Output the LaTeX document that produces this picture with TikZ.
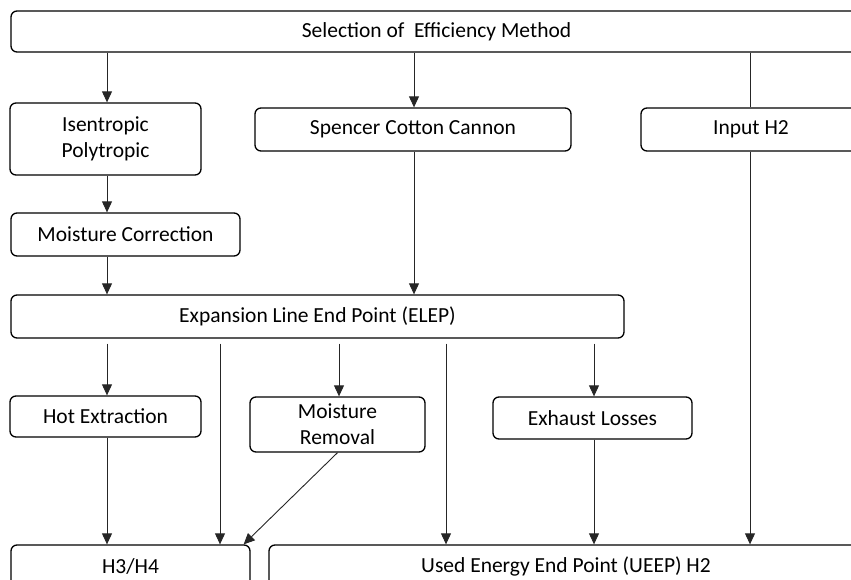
\documentclass[tikz,border=0pt]{standalone}
\usepackage{fontspec}
\setmainfont{Carlito}
\usetikzlibrary{arrows.meta}
\tikzset{
  box/.style={draw,rounded corners=6bp,line width=1.3bp,inner sep=0pt,align=center,
    font=\fontsize{21.5bp}{26bp}\selectfont},
  link/.style={line width=0.9bp,draw=black!85},
}
\begin{document}
\begin{tikzpicture}[x=1bp,y=-1bp,>={Triangle[width=10bp,length=11bp]}]
%%
\path[use as bounding box,clip] (0,0) rectangle (851,580);
\node (SEL) at (436.5,31.5) [box,minimum width=851bp,minimum height=41bp] {Selection of\ \ Efficiency Method};
  \node (ISP) at (105.5,139) [box,minimum width=191bp,minimum height=72bp] {Isentropic\\Polytropic};
  \node (SCC) at (413,129.5) [box,minimum width=316bp,minimum height=43bp] {Spencer Cotton Cannon};
  \node (INP) at (751,129.5) [box,minimum width=220bp,minimum height=43bp] {Input H2};
  \node (MC) at (125.5,234.5) [box,minimum width=229bp,minimum height=43bp] {Moisture Correction};
  \node (ELEP) at (317.5,316.5) [box,minimum width=613bp,minimum height=43bp] {Expansion Line End Point (ELEP)};
  \node (HE) at (105.5,416.5) [box,minimum width=191bp,minimum height=41bp] {Hot Extraction};
  \node (MR) at (337.5,424.5) [box,minimum width=175bp,minimum height=55bp] {Moisture\\Removal};
  \node (EL) at (592.5,418) [box,minimum width=199bp,minimum height=42bp] {Exhaust Losses};
  \node (H34) at (130.5,566.5) [box,minimum width=239bp,minimum height=43bp] {H3/H4};
  \node (UEEP) at (566,566.5) [box,minimum width=594bp,minimum height=43bp] {Used Energy End Point (UEEP) H2};
  \coordinate (c1) at (107,0);
  \coordinate (c2) at (220,0);
  \coordinate (c3) at (339,0);
  \coordinate (c4) at (446,0);
  \coordinate (c5) at (594,0);
  \coordinate (c6) at (750,0);
  \coordinate (c7) at (414,0);
  \draw [link,->] (SEL.south -| c1) -- (ISP.north -| c1);
  \draw [link,->] (SEL.south -| c7) -- (SCC.north -| c7);
  \draw [link] (SEL.south -| c6) -- (INP.north -| c6);
  \draw [link,->] (ISP.south -| c1) -- (MC.north -| c1);
  \draw [link,->] (MC.south -| c1) -- (ELEP.north -| c1);
  \draw [link,->] (SCC.south -| c7) -- (ELEP.north -| c7);
  \draw [link,->,shorten <=5bp] (ELEP.south -| c1) -- (HE.north -| c1);
  \draw [link,->,shorten <=5bp] (ELEP.south -| c2) -- (H34.north -| c2);
  \draw [link,->,shorten <=5bp] (ELEP.south -| c3) -- (MR.north -| c3);
  \draw [link,->,shorten <=5bp] (ELEP.south -| c4) -- (UEEP.north -| c4);
  \draw [link,->,shorten <=5bp] (ELEP.south -| c5) -- (EL.north -| c5);
  \draw [link,->] (HE.south -| c1) -- (H34.north -| c1);
  \draw [link,->] (MR.south) -- ([xshift=-7bp]H34.north east);
  \draw [link,->] (EL.south -| c5) -- (UEEP.north -| c5);
  \draw [link,->] (INP.south -| c6) -- (UEEP.north -| c6);
%
\end{tikzpicture}
\end{document}
